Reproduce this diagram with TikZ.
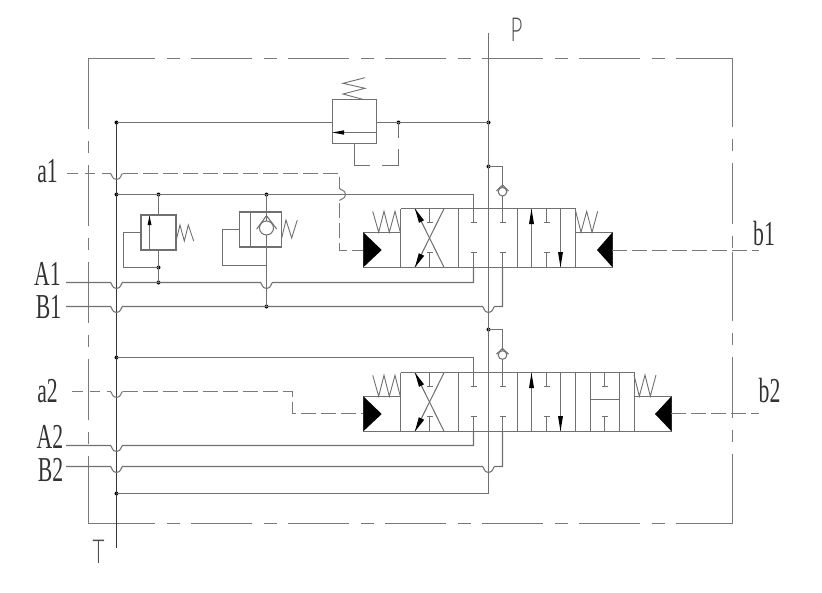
\documentclass[tikz,border=0pt]{standalone}
\usepackage{fontspec}
\setmainfont{Liberation Serif}
\newfontfamily\thinfont{Lato}[UprightFont=* Light]
\newcommand{\hopH}[2]{-- ({#1-6},#2) .. controls ({#1-4.5},#2) and ({#1-5},{#2+6}) .. (#1,{#2+6}) .. controls ({#1+5},{#2+6}) and ({#1+4.5},#2) .. ({#1+6},#2)}
\newcommand{\hopV}[2]{-- (#1,{#2-6}) .. controls (#1,{#2-4.5}) and ({#1+6},{#2-5}) .. ({#1+6},#2) .. controls ({#1+6},{#2+5}) and (#1,{#2+4.5}) .. (#1,{#2+6})}
\newcommand{\labeltext}[1]{\scalebox{0.62}[1]{#1}}
\newcommand{\thintext}[1]{\scalebox{0.62}[1]{\thinfont #1}}
\tikzset{
  pipe/.style={line width=1.05pt,draw=black!56,line cap=butt,line join=miter},
  tline/.style={line width=1.05pt,draw=black!78},
  frame/.style={line width=1.05pt,draw=black!52,dash pattern=on 61pt off 12pt on 12.5pt off 11.5pt},
  framesolid/.style={line width=1.05pt,draw=black!52},
  pilot/.style={line width=1.05pt,draw=black!52,dash pattern=on 15pt off 5pt},
  pilotstart/.style={line width=1.05pt,draw=black!52,dash pattern=on 10.5pt off 7pt},
  dot/.style={circle,fill=black,inner sep=0pt,minimum size=4pt},
  lbl/.style={anchor=base,inner sep=0pt,font=\fontsize{35}{35}\selectfont,text=black!80},
  thinlbl/.style={anchor=base,inner sep=0pt,font=\fontsize{33}{33}\selectfont,text=black!70},
  head/.style={fill=black,draw=none},
}
\newcommand{\valvecore}{%
  \draw[pipe] (400.5,232.3) -- (363.5,232.3) -- (363.5,267.5) -- (400.5,267.5);
  \fill[head] (363.3,232.3) -- (381.7,250) -- (363.3,267.3) -- cycle;
  \draw[pipe,line width=.9pt] (372.7,211.3) -- (378.7,232.3) -- (384,211.3) -- (389.3,232.3) -- (395,211.3) -- (400.3,232.3);
  \foreach \xx in {400.5,458.5,517.5,575.5} \draw[pipe] (\xx,208.5) -- (\xx,267.5);
  \draw[pipe] (415,208.7) -- (444,267.3);
  \draw[pipe] (444,208.7) -- (415,267.3);
  \fill[head] (415,208.7) -- (424,220.3) -- (419,222.8) -- cycle;
  \fill[head] (415,267.3) -- (424.2,255.8) -- (418.8,253.2) -- cycle;
  \foreach \xx in {429.5,473.5,502.5,546.5} {
    \draw[pipe] (\xx,208.5) -- (\xx,222.7) ({\xx-3},222.7) -- ({\xx+3},222.7);
    \draw[pipe] (\xx,267.5) -- (\xx,252.7) ({\xx-3},252.7) -- ({\xx+3},252.7);
  }
  \draw[pipe] (531.5,208.5) -- (531.5,267.5);
  \fill[head] (531.5,208.7) -- (534,224) -- (529,224) -- cycle;
  \draw[pipe] (560.5,208.5) -- (560.5,267.5);
  \fill[head] (560.5,267.3) -- (563,252) -- (558,252) -- cycle;
}
\newcommand{\checkvalve}[2]{%
  \draw[pipe,fill=white] (#1,#2) circle (4.3);
  \draw[pipe] ({#1-6},{#2-0.8}) -- (#1,{#2-6.7}) -- ({#1+6},{#2-0.8});
}
\begin{document}
\begin{tikzpicture}[x=1pt,y=-1pt]
\useasboundingbox (0,0) rectangle (822,592);
% frame
\draw[framesolid] (88.5,68) -- (88.5,58.5) -- (94,58.5);
\draw[framesolid] (726,58.5) -- (732.5,58.5) -- (732.5,65.5);
\draw[framesolid] (88.5,517) -- (88.5,523.5) -- (94,523.5);
\draw[framesolid] (726,523.5) -- (732.5,523.5) -- (732.5,514);
\draw[framesolid] (732.5,251.5) -- (732.5,261);
\draw[frame] (94,58.5) -- (726,58.5);
\draw[frame] (94,523.5) -- (726,523.5);
\draw[frame] (88.5,517) -- (88.5,68);
\draw[frame] (732.5,65.5) -- (732.5,514);
% junctions
\node[dot] (t1) at (116.5,122.5) {};
\node[dot] (t2) at (116.5,194.5) {};
\node[dot] (t3) at (116.5,357.5) {};
\node[dot] (t4) at (116.5,493.5) {};
\node[dot] (p1) at (488.5,122.5) {};
\node[dot] (p2) at (488.5,166.5) {};
\node[dot] (p3) at (488.5,329.5) {};
\node[dot] (r1) at (398.5,122.5) {};
\node[dot] (v1) at (158.5,194.5) {};
\node[dot] (v2) at (158.5,267.5) {};
\node[dot] (v3) at (158.5,282.5) {};
\node[dot] (c1) at (266.5,194.5) {};
\node[dot] (c2) at (266.5,306.5) {};
\coordinate (ptop) at (488.5,33);
\coordinate (tbot) at (116.5,547.5);
\coordinate (pbot) at (488.5,493.5);
% valves
\valvecore
\begin{scope}[shift={(0,164)}]
\valvecore
\end{scope}
\draw[pipe] (400.5,208.5) -- (575.5,208.5) (400.5,267.5) -- (575.5,267.5);
\draw[pipe] (575.5,232.3) -- (612.5,232.3) -- (612.5,267.5) -- (575.5,267.5);
\fill[head] (612.5,232.3) -- (597,250) -- (612.5,267.3) -- cycle;
\draw[pipe,line width=.9pt] (575.7,211.3) -- (581,232.3) -- (586.7,211.3) -- (592,232.3) -- (597.7,211.3);
\draw[pipe] (400.5,372.5) -- (634.5,372.5) (400.5,431.5) -- (634.5,431.5);
\foreach \xx in {590.5,619.5,634.5} \draw[pipe] (\xx,372.5) -- (\xx,431.5);
\draw[pipe] (590.5,399.5) -- (619.5,399.5);
\draw[pipe] (604.5,372.5) -- (604.5,386.5) (601.5,386.5) -- (607.5,386.5);
\draw[pipe] (604.5,431.5) -- (604.5,416.5) (601.5,416.5) -- (607.5,416.5);
\draw[pipe] (634.5,396.3) -- (671.5,396.3) -- (671.5,431.5) -- (634.5,431.5);
\fill[head] (671.5,396.3) -- (655,414) -- (671.5,431.3) -- cycle;
\draw[pipe,line width=.9pt] (634,375) -- (639.3,396.3) -- (645,375) -- (650.3,396.3) -- (656,375);
% main lines
\draw[pipe] (ptop) -- (pbot);
\draw[tline] (t1.center) -- (tbot);
\draw[pipe] (t4.center) -- (pbot);
% top relief valve
\node[draw=black!56,line width=1.05pt,inner sep=0pt,minimum width=44pt,minimum height=44pt] (rv) at (354.5,121.5) {};
\draw[pipe] (t1.center) -- (rv.west |- t1);
\draw[pipe] (rv.east |- p1) -- (p1.center);
\draw[pipe] (332.5,132.5) -- (376.5,132.5);
\fill[head] (332.5,132.5) -- (344,130.3) -- (344,134.7) -- cycle;
\draw[pipe,line width=.9pt] (364,99.7) -- (343,94) -- (365,88.3) -- (343,83.3) -- (365,77.7);
\draw[pipe] (r1.center) -- (398.5,138) (398.5,149) -- (398.5,165.5) -- (382,165.5) (370,165.5) -- (354.5,165.5) -- (354.5,143.5);
% group 1 lines
\draw[pipe] (t2.center) -- (473.5,194.5) -- (473.5,208.5);
\draw[pipe] (66,282.5) \hopH{116.5}{282.5} -- (v3.center) \hopH{266.5}{282.5} -- (473.5,282.5) -- (473.5,267.5);
\draw[pipe] (66,306.5) \hopH{116.5}{306.5} -- (c2.center) \hopH{488.5}{306.5} -- (502.5,306.5) -- (502.5,267.5);
\draw[pipe] (p2.center) -- (502.5,166.5) -- (502.5,208.5);
\checkvalve{502.5}{191.7}
% group 2 lines
\draw[pipe] (t3.center) -- (473.5,357.5) -- (473.5,372.5);
\draw[pipe] (66,445.5) \hopH{116.5}{445.5} -- (473.5,445.5) -- (473.5,431.5);
\draw[pipe] (66,466.5) \hopH{116.5}{466.5} \hopH{488.5}{466.5} -- (502.5,466.5) -- (502.5,431.5);
\draw[pipe] (p3.center) -- (502.5,329.5) -- (502.5,372.5);
\checkvalve{502.5}{355}
% sequence valve
\node[draw=black!56,line width=1.05pt,inner sep=0pt,minimum width=35pt,minimum height=35pt] (sv) at (158.5,232.5) {};
\draw[pipe] (v1.center) -- (sv.north);
\draw[pipe] (sv.south) -- (v2.center) -- (v3.center);
\draw[pipe] (149.5,215) -- (149.5,250);
\fill[head] (149.5,216) -- (151.5,225) -- (147.5,225) -- cycle;
\draw[pipe] (sv.west) -- (123.5,232.5) -- (123.5,267.5) -- (v2.center);
\draw[pipe,line width=.9pt] (176,241) -- (180,225) -- (184.3,241) -- (188.3,225) -- (193.7,241);
% piloted check valve
\node[draw=black!56,line width=1.05pt,inner sep=0pt,minimum width=42pt,minimum height=35pt] (cv) at (260.5,229.5) {};
\draw[pipe] (250.5,212) -- (250.5,247);
\draw[pipe] (c1.center) -- (c2.center);
\draw[pipe,fill=white] (266.5,228) circle (7);
\draw[pipe] (256.7,229) -- (266.5,215.7) -- (276.7,229);
\draw[pipe] (cv.west) -- (222.5,229.5) -- (222.5,265.5) -- (266.5,265.5);
\draw[pipe,line width=.9pt] (281.7,238) -- (286,220) -- (291.7,238) -- (297.3,220);
% pilot signal lines
\coordinate (a1s) at (67,173.5);
\coordinate (a1h) at (110.5,173.5);
\coordinate (a2s) at (72,391.5);
\coordinate (a2h) at (110.5,391.5);
\coordinate (b1e) at (759,250.5);
\coordinate (b2e) at (759,413.5);
\draw[pilotstart] (a1s) -- (a1h);
\draw[framesolid] (a1h) \hopH{116.5}{173.5};
\draw[pilot] (122.5,173.5) -- (339.5,173.5) -- (339.5,188);
\draw[framesolid] (339.5,188) \hopV{339.5}{194.5};
\draw[pilot] (339.5,203) -- (339.5,250.5) -- (363.3,250.5);
\draw[pilotstart] (a2s) -- (a2h);
\draw[framesolid] (a2h) \hopH{116.5}{391.5};
\draw[pilot] (122.5,391.5) -- (292.5,391.5) -- (292.5,413.5) -- (363.3,413.5);
\draw[pilot] (612.3,250.5) -- (b1e);
\draw[pilot] (671,413.5) -- (b2e);
% labels
\node[lbl] (la1) at (47.5,182) {\labeltext{a1}};
\node[lbl] (lA1) at (47.5,285) {\labeltext{A1}};
\node[lbl] (lB1) at (48.5,318.5) {\labeltext{B1}};
\node[lbl] (la2) at (47.5,402) {\labeltext{a2}};
\node[lbl] (lA2) at (50,448) {\labeltext{A2}};
\node[lbl] (lB2) at (50.5,481) {\labeltext{B2}};
\node[lbl] (lb1) at (764,245) {\labeltext{b1}};
\node[lbl] (lb2) at (769.5,402) {\labeltext{b2}};
\node[thinlbl] (lP) at (516.5,41) {\thintext{P}};
\node[thinlbl] (lT) at (98.6,563) {\thintext{T}};
\end{tikzpicture}
\end{document}
